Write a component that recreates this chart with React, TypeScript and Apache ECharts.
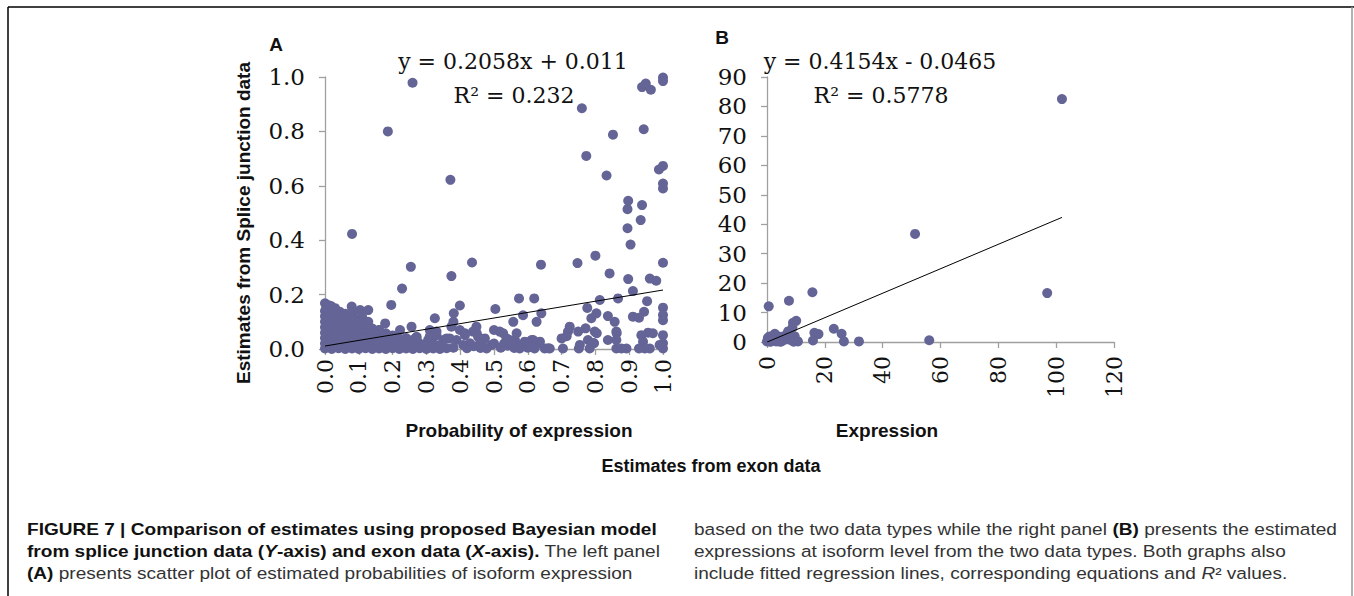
import React, { useEffect, useRef } from "react";
import * as echarts from "echarts";

// ---------- Panel A: probability of expression (exon x, splice junction y) ----------
const denseClusterA: [number, number][] = [
  [0.000, 0.168], [0.008, 0.162], [0.018, 0.158], [0.004, 0.150], [0.030, 0.150],
  [0.000, 0.140], [0.014, 0.142], [0.028, 0.136], [0.044, 0.137], [0.060, 0.130], [0.079, 0.156], [0.104, 0.143], [0.128, 0.143], [0.082, 0.132],
  [0.000, 0.120], [0.016, 0.122], [0.032, 0.118], [0.046, 0.121], [0.062, 0.114], [0.076, 0.118], [0.092, 0.110], [0.110, 0.118],
  [0.000, 0.100], [0.020, 0.100], [0.040, 0.098], [0.060, 0.100], [0.080, 0.095], [0.100, 0.098], [0.116, 0.090], [0.128, 0.100],
  [0.000, 0.080], [0.020, 0.082], [0.040, 0.078], [0.060, 0.080], [0.080, 0.080], [0.100, 0.078], [0.120, 0.080], [0.140, 0.075], [0.160, 0.070], [0.178, 0.094],
  [0.000, 0.060], [0.020, 0.060], [0.040, 0.060], [0.060, 0.058], [0.080, 0.060], [0.100, 0.060], [0.120, 0.058], [0.140, 0.060], [0.160, 0.055], [0.180, 0.058], [0.200, 0.050], [0.222, 0.070],
  [0.000, 0.040], [0.020, 0.042], [0.040, 0.040], [0.060, 0.038], [0.080, 0.040], [0.100, 0.042], [0.120, 0.040], [0.140, 0.038], [0.160, 0.040], [0.180, 0.042], [0.200, 0.040], [0.220, 0.038], [0.240, 0.040], [0.262, 0.035],
  [0.000, 0.020], [0.020, 0.022], [0.040, 0.020], [0.060, 0.018], [0.080, 0.020], [0.100, 0.022], [0.120, 0.020], [0.140, 0.018], [0.160, 0.020], [0.180, 0.022], [0.200, 0.020], [0.220, 0.018], [0.240, 0.020], [0.260, 0.022], [0.280, 0.020], [0.300, 0.018], [0.320, 0.020],
  [0.000, 0.002], [0.020, 0.000], [0.040, 0.003], [0.060, 0.000], [0.080, 0.002], [0.100, 0.000], [0.120, 0.003], [0.140, 0.000], [0.160, 0.002], [0.180, 0.000], [0.200, 0.003], [0.220, 0.000], [0.240, 0.002], [0.260, 0.000], [0.280, 0.003], [0.300, 0.000], [0.320, 0.002], [0.340, 0.000], [0.360, 0.003],
];

const lowBandA: [number, number][] = [
  [1.0, 0.051], [1.0, 0.021], [1.0, 0.002], [0.99, 0.015], [0.956, 0.060], [0.970, 0.058], [0.936, 0.051], [0.941, 0.027],
  [0.961, 0.002], [0.946, 0.002], [0.929, 0.002], [0.892, 0.002], [0.877, 0.002], [0.862, 0.002], [0.862, 0.033], [0.837, 0.033],
  [0.796, 0.021], [0.798, 0.064], [0.751, 0.002], [0.754, 0.015], [0.749, 0.064], [0.724, 0.082], [0.719, 0.064], [0.700, 0.039],
  [0.704, 0.002], [0.771, 0.076], [0.778, 0.033], [0.783, 0.002], [0.665, 0.002], [0.650, 0.002], [0.624, 0.015], [0.611, 0.033],
  [0.591, 0.027], [0.576, 0.002], [0.562, 0.033], [0.567, 0.058], [0.547, 0.033], [0.537, 0.039], [0.527, 0.058], [0.517, 0.064],
  [0.500, 0.070], [0.493, 0.015], [0.478, 0.002], [0.468, 0.033], [0.453, 0.045], [0.448, 0.082], [0.438, 0.064], [0.429, 0.021],
  [0.414, 0.051], [0.409, 0.015], [0.399, 0.070], [0.389, 0.033], [0.374, 0.082], [0.369, 0.039], [0.350, 0.033], [0.340, 0.015],
  [0.330, 0.051], [0.310, 0.070], [0.305, 0.033], [0.291, 0.015], [0.271, 0.045], [0.256, 0.082], [0.251, 0.027],
  [0.863, 0.058], [0.804, 0.058], [0.794, 0.022], [0.715, 0.047], [0.660, 0.003], [0.636, 0.027], [0.616, 0.033], [0.500, 0.020],
  [0.473, 0.039], [0.459, 0.020], [0.449, 0.058], [0.414, 0.058], [0.380, 0.100], [0.360, 0.039], [0.330, 0.064], [0.310, 0.047],
  [0.271, 0.039], [0.160, 0.070], [0.380, 0.005], [0.420, 0.003], [0.440, 0.010], [0.460, 0.004], [0.520, 0.005], [0.540, 0.012],
  [0.560, 0.004], [0.600, 0.005], [0.620, 0.002], [0.580, 0.015], [0.530, 0.020], [0.550, 0.022],
];

const outliersA: [number, number][] = [
  [0.259, 0.979], [0.186, 0.800], [0.080, 0.423], [0.371, 0.622], [0.254, 0.302], [0.374, 0.268], [0.435, 0.318], [0.228, 0.222],
  [0.196, 0.162], [0.399, 0.160], [0.381, 0.131], [0.325, 0.113], [0.504, 0.147], [0.574, 0.186], [0.619, 0.186], [0.639, 0.310],
  [0.586, 0.124], [0.640, 0.131], [0.626, 0.100], [0.557, 0.100], [0.760, 0.885], [0.773, 0.710], [0.747, 0.316], [0.800, 0.343],
  [0.852, 0.788], [0.833, 0.638], [0.842, 0.278], [0.867, 0.186], [0.813, 0.180], [0.776, 0.151], [0.788, 0.113], [0.803, 0.131],
  [0.837, 0.121], [0.857, 0.100], [0.862, 0.064], [0.897, 0.545], [0.895, 0.514], [0.895, 0.444], [0.904, 0.384], [0.897, 0.257],
  [0.911, 0.213], [0.938, 0.529], [0.934, 0.474], [0.943, 0.808], [0.938, 0.963], [0.949, 0.976], [0.964, 0.953], [0.961, 0.259],
  [0.980, 0.251], [0.953, 0.176], [0.944, 0.137], [0.911, 0.119], [0.929, 0.115], [1.0, 0.998], [1.0, 0.985], [0.988, 0.660],
  [1.0, 0.673], [1.0, 0.608], [1.0, 0.590], [1.0, 0.317], [1.0, 0.152], [1.0, 0.125], [1.0, 0.106],
];

const fitLineA: [number, number][] = [[0, 0.011], [1.0, 0.2168]];

// ---------- Panel B: expression ----------
const pointsB: [number, number][] = [
  [102.0, 82.5], [51.2, 36.7], [96.9, 16.6], [56.1, 0.6], [15.7, 16.9], [7.6, 14.0], [0.6, 12.1], [10.1, 7.2],
  [9.0, 6.5], [8.8, 4.8], [23.1, 4.5], [25.8, 2.8], [26.6, 0.2], [31.8, 0.2], [16.4, 3.1], [17.8, 2.7],
  [15.9, 0.5], [10.7, 0.2], [7.8, 0.8], [9.6, 1.9], [6.7, 2.5], [2.7, 2.8], [3.8, 1.9], [0.9, 1.9],
  [0.0, 0.2], [1.5, 0.2], [3.2, 0.2], [5.0, 0.2], [6.1, 0.8], [7.3, 3.6], [8.4, 1.4], [4.4, 1.4],
  [0.3, 1.4], [2.8, 2.4], [5.0, 1.8], [8.0, 2.9], [1.0, 0.1], [4.5, 0.1], [9.2, 0.1],
];

const fitLineB: [number, number][] = [[0, -0.0465], [102.0, 42.32]];

// ---------- Texts ----------
const equationA = "y = 0.2058x + 0.011";
const rSquaredA = "R² = 0.232";
const equationB = "y = 0.4154x - 0.0465";
const rSquaredB = "R² = 0.5778";
const yTitleA = "Estimates from Splice junction data";
const xTitleA = "Probability of expression";
const xTitleB = "Expression";
const sharedXTitle = "Estimates from exon data";

const SERIF = '"DejaVu Serif", serif';
const SANS = '"Liberation Sans", Arial, sans-serif';
const DOT = "#646497";
const AXIS = "#a0a0a0";

function axisCommon() {
  return {
    type: "value" as const,
    axisLine: { show: true, onZero: false, lineStyle: { color: AXIS, width: 1.3 } },
    axisTick: { show: true, length: 6, lineStyle: { color: AXIS, width: 1.3 } },
    splitLine: { show: false },
  };
}

export default function App() {
  const ref = useRef<HTMLDivElement>(null);
  useEffect(() => {
    const chart = echarts.init(ref.current!, null, { renderer: "svg" });
    const cap = '16.5px "Liberation Sans", Arial, sans-serif';
    const rich = {
      b: { font: "bold " + cap, fontSize: 16.5, fontWeight: "bold", fill: "#111" },
      bi: { font: "italic bold " + cap, fontSize: 16.5, fontWeight: "bold", fontStyle: "italic", fill: "#111" },
      r: { font: cap, fontSize: 16.5, fill: "#333" },
      i: { font: "italic " + cap, fontSize: 16.5, fontStyle: "italic", fill: "#333" },
    };
    const capLine = (x: number, y: number, text: string) => ({
      type: "text",
      x,
      y,
      scaleX: 1.155,
      style: { text, rich, align: "left", verticalAlign: "middle", font: cap },
    });
    const label = (x: number, y: number, text: string, size: number, extra: any = {}) => ({
      type: "text",
      x,
      y,
      ...extra,
      style: { text, fontFamily: SANS, fontWeight: "bold", fontSize: size, fill: "#111", align: "center", verticalAlign: "middle" },
    });
    const serifText = (x: number, y: number, text: string) => ({
      type: "text",
      x,
      y,
      style: { text, fontFamily: SERIF, fontSize: 22, fill: "#111", align: "center", verticalAlign: "middle" },
    });

    chart.setOption({
      animation: false,
      backgroundColor: "#ffffff",
      grid: [
        { left: 325, top: 77, width: 338, height: 272 },
        { left: 767, top: 77, width: 347, height: 265 },
      ],
      xAxis: [
        {
          ...axisCommon(),
          gridIndex: 0,
          min: 0,
          max: 1,
          interval: 0.1,
          axisLabel: { rotate: 90, margin: 10, fontFamily: SERIF, fontSize: 22, color: "#111", formatter: (v: number) => v.toFixed(1) },
        },
        {
          ...axisCommon(),
          gridIndex: 1,
          min: 0,
          max: 120,
          interval: 20,
          axisLabel: { rotate: 90, margin: 14, fontFamily: SERIF, fontSize: 22, color: "#111" },
        },
      ],
      yAxis: [
        {
          ...axisCommon(),
          gridIndex: 0,
          min: 0,
          max: 1,
          interval: 0.2,
          axisLabel: { margin: 20, fontFamily: SERIF, fontSize: 23, color: "#111", formatter: (v: number) => v.toFixed(1) },
        },
        {
          ...axisCommon(),
          gridIndex: 1,
          min: 0,
          max: 90,
          interval: 10,
          axisLabel: { margin: 20, fontFamily: SERIF, fontSize: 23, color: "#111" },
        },
      ],
      series: [
        {
          type: "scatter",
          xAxisIndex: 0,
          yAxisIndex: 0,
          data: [...denseClusterA, ...lowBandA, ...outliersA],
          symbolSize: 10,
          itemStyle: { color: DOT, opacity: 1 },
          clip: false,
          z: 2,
        },
        {
          type: "line",
          xAxisIndex: 0,
          yAxisIndex: 0,
          data: fitLineA,
          symbol: "none",
          lineStyle: { color: "#000", width: 1 },
          z: 3,
        },
        {
          type: "scatter",
          xAxisIndex: 1,
          yAxisIndex: 1,
          data: pointsB,
          symbolSize: 10,
          itemStyle: { color: DOT, opacity: 1 },
          clip: false,
          z: 2,
        },
        {
          type: "line",
          xAxisIndex: 1,
          yAxisIndex: 1,
          data: fitLineB,
          symbol: "none",
          lineStyle: { color: "#000", width: 1 },
          z: 3,
        },
      ],
      graphic: [
        { type: "line", shape: { x1: 8, y1: 7, x2: 1354, y2: 7 }, style: { stroke: "#000", lineWidth: 1.5 } },
        { type: "line", shape: { x1: 8, y1: 7, x2: 8, y2: 596 }, style: { stroke: "#000", lineWidth: 1.5 } },
        { type: "line", shape: { x1: 1352, y1: 7, x2: 1352, y2: 596 }, style: { stroke: "#999", lineWidth: 1.5 } },
        label(276, 44, "A", 19),
        label(722, 37, "B", 19),
        serifText(513, 61, equationA),
        serifText(514, 95, rSquaredA),
        serifText(880, 61, equationB),
        serifText(881, 95, rSquaredB),
        label(243, 223, yTitleA, 19, { rotation: Math.PI / 2 }),
        label(519, 430, xTitleA, 19),
        label(887, 430, xTitleB, 19),
        label(711, 466, sharedXTitle, 18),
        capLine(27, 529, "{b|FIGURE 7 | Comparison of estimates using proposed Bayesian model}"),
        capLine(27, 551, "{b|from splice junction data (}{bi|Y}{b|-axis) and exon data (}{bi|X}{b|-axis).}{r| The left panel}"),
        capLine(27, 573, "{b|(A)}{r| presents scatter plot of estimated probabilities of isoform expression}"),
        capLine(694, 529, "{r|based on the two data types while the right panel }{b|(B)}{r| presents the estimated}"),
        capLine(694, 551, "{r|expressions at isoform level from the two data types. Both graphs also}"),
        capLine(694, 573, "{r|include fitted regression lines, corresponding equations and }{i|R}{r|² values.}"),
      ],
    });
    return () => chart.dispose();
  }, []);
  return (
    <div
      ref={ref}
      style={{ position: "absolute", left: 0, top: 0, width: 1354, height: 596, background: "#fff" }}
    />
  );
}
